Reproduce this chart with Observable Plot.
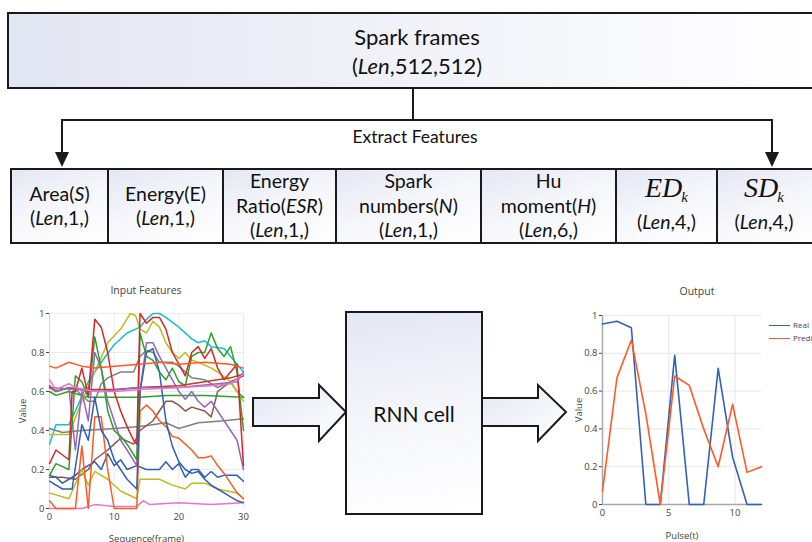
<!DOCTYPE html>
<html><head><meta charset="utf-8">
<script src="https://cdn.jsdelivr.net/npm/d3@7"></script>
<script src="https://cdn.jsdelivr.net/npm/@observablehq/plot@0.6"></script>
<style>
html,body{margin:0;padding:0;background:#fff;overflow:hidden}
#root{position:relative;width:812px;height:542px;overflow:hidden;font-family:Lato,"Open Sans",sans-serif;color:#111}
.box{position:absolute;box-sizing:border-box;border:2px solid #1a1a1a;background:linear-gradient(160deg,#e2e6f2 0%,#f3f5fa 45%,#fff 100%)}
.cell{position:absolute;box-sizing:border-box;top:168px;height:76px;border:2px solid #1a1a1a;margin-left:-2px;display:flex;align-items:center;justify-content:center;text-align:center;font-size:19.5px;line-height:24.5px;background:linear-gradient(160deg,#e4e8f3 0%,#f6f7fb 50%,#fff 100%);white-space:nowrap}
.cell i{font-style:italic}
.ser{font-family:"Liberation Serif",serif;font-style:italic;font-size:28px;line-height:22px;display:inline-block}
.ser sub{font-size:15px;position:relative;top:-2px;vertical-align:sub;margin-left:-1px}
.ttl{position:absolute;font-family:"Open Sans",sans-serif;font-size:10.5px;color:#444;transform:translateX(-50%);white-space:nowrap}
.abs{position:absolute}
</style></head>
<body>
<div id="root">
  <div class="box" style="left:7px;top:12px;width:820px;height:77px;background:linear-gradient(90deg,#e2e6f2 0%,#eef0f7 40%,#fff 100%)">
    <div style="position:absolute;left:0;right:0;top:8px;text-align:center;font-size:22px;line-height:29px">Spark frames<br>(<i>Len</i>,512,512)</div>
  </div>
  <svg class="abs" style="left:0;top:0" width="812" height="542">
    <defs>
      <linearGradient id="ag" x1="0" y1="0" x2="1" y2="1">
        <stop offset="0" stop-color="#e3e7f3"/><stop offset="1" stop-color="#fff"/>
      </linearGradient>
    </defs>
    <line x1="413" y1="89" x2="413" y2="120" stroke="#1a1a1a" stroke-width="2"/>
    <line x1="61" y1="120" x2="773" y2="120" stroke="#1a1a1a" stroke-width="2"/>
    <line x1="62" y1="119" x2="62" y2="155" stroke="#1a1a1a" stroke-width="2"/>
    <line x1="772" y1="119" x2="772" y2="155" stroke="#1a1a1a" stroke-width="2"/>
    <polygon points="55,152 69,152 62,167" fill="#1a1a1a"/>
    <polygon points="765,152 779,152 772,167" fill="#1a1a1a"/>
    <polygon points="253,398 319,398 319,385 346,412 319,441 319,426 253,426" fill="url(#ag)" stroke="#1a1a1a" stroke-width="2"/>
    <polygon points="482,398 538,398 538,385 566,412 538,441 538,426 482,426" fill="url(#ag)" stroke="#1a1a1a" stroke-width="2"/>
  </svg>
  <div class="abs" style="left:0;width:830px;top:126px;text-align:center;font-size:17.5px">Extract Features</div>

  <div class="cell" style="left:12px;width:99px"><div>Area(<i>S</i>)<br>(<i>Len</i>,1,)</div></div>
  <div class="cell" style="left:109px;width:117px"><div>Energy(E)<br>(<i>Len</i>,1,)</div></div>
  <div class="cell" style="left:224px;width:115px"><div>Energy<br>Ratio(<i>ESR</i>)<br>(<i>Len</i>,1,)</div></div>
  <div class="cell" style="left:337px;width:147px"><div>Spark<br>numbers(<i>N</i>)<br>(<i>Len</i>,1,)</div></div>
  <div class="cell" style="left:482px;width:137px"><div>Hu<br>moment(<i>H</i>)<br>(<i>Len</i>,6,)</div></div>
  <div class="cell" style="left:617px;width:103px"><div><span class="ser">ED<sub>k</sub></span><br>(<i>Len</i>,4,)</div></div>
  <div class="cell" style="left:718px;width:110px"><div style="margin-left:-14px"><span class="ser">SD<sub>k</sub></span><br>(<i>Len</i>,4,)</div></div>

  <div class="box" style="left:345px;top:311px;width:138px;height:204px;display:flex;align-items:center;justify-content:center;font-size:21px;background:linear-gradient(170deg,#e3e7f3 0%,#f3f5fa 45%,#fff 100%)">RNN cell</div>

  <div class="ttl" style="left:146px;top:283px">Input Features</div>
  <div class="ttl" style="left:697px;top:284px">Output</div>
  <div id="inChart" class="abs" style="left:0;top:280px"></div>
  <div id="outChart" class="abs" style="left:560px;top:280px"></div>
  <div class="abs" style="left:769px;top:318px;font-family:'Open Sans',sans-serif;font-size:8px;color:#444;line-height:13px;white-space:nowrap">
    <div><span style="display:inline-block;width:21px;height:0;border-top:1.6px solid #3162b4;vertical-align:middle;margin-right:3px"></span>Real</div>
    <div><span style="display:inline-block;width:21px;height:0;border-top:1.6px solid #ff5a23;vertical-align:middle;margin-right:3px"></span>Predicted</div>
  </div>
</div>
<script>
// ---- Input Features: breakpoints [frame, value] ----
const orangeFlat = [[0,0.73],[1,0.72],[3,0.75],[5,0.73],[7,0.72],[10,0.73],[14,0.74],[17,0.75],[20,0.74],[24,0.75],[28,0.74],[30,0.72]];
const pinkMid = [[0,0.66],[1,0.61],[3,0.64],[4,0.62],[7,0.6],[10,0.6],[14,0.61],[20,0.62],[25,0.63],[28,0.64],[30,0.69]];
const purpleMid = [[0,0.63],[1,0.6],[3,0.62],[4,0.61],[8,0.6],[14,0.62],[20,0.62],[26,0.64],[29,0.65],[30,0.7]];
const redMid = [[0,0.62],[1,0.6],[3,0.62],[5,0.61],[10,0.61],[14,0.62],[20,0.63],[24,0.65],[28,0.67],[30,0.69]];
const greenFlat = [[0,0.6],[1,0.58],[3,0.6],[4,0.59],[6,0.57],[10,0.57],[14,0.57],[18,0.58],[24,0.58],[30,0.57]];
const grayFlat = [[0,0.41],[2,0.39],[5,0.4],[10,0.41],[14,0.42],[18,0.44],[20,0.41],[23,0.44],[27,0.45],[30,0.46]];
const cyanRise = [[0,0.33],[1,0.43],[3,0.43],[4,0.5],[6,0.65],[8,0.75],[10,0.84],[12,0.9],[14,0.93],[15,0.97],[16,1.0],[17,1.0],[18,0.98],[20,0.93],[22,0.87],[23,0.85],[24,0.86],[25,0.83],[27,0.82],[28,0.78],[30,0.7]];
const oliveHigh = [[0,0.38],[3,0.38],[5,0.55],[7,0.7],[9,0.85],[11,0.92],[12.5,1.0],[13.3,0.99],[14,0.92],[15,0.9],[16,0.96],[17,0.93],[18,0.85],[19,0.8],[20,0.77],[21,0.8],[22,0.76],[23,0.75],[25,0.72],[26,0.7],[28,0.65],[30,0.55]];
const redPeak = [[0,0.23],[1,0.3],[3,0.25],[3.5,0.6],[4,0.6],[5,0.72],[6,0.58],[7,0.97],[8,0.93],[9,0.8],[10,0.6],[11,0.5],[12,0.42],[13,0.35],[13.5,0.33],[14,1.0],[15,0.95],[16,0.98],[17,0.98],[18,0.92],[19,0.8],[20,0.74],[21,0.68],[22,0.8],[23,0.83],[24,0.77],[25,0.82],[26,0.72],[27,0.66],[28,0.7],[29,0.74],[30,0.22]];
const greenPeak = [[0,0.17],[1,0.23],[3,0.2],[4,0.68],[5,0.65],[6,0.57],[7,0.88],[8,0.72],[9,0.5],[10,0.4],[11,0.37],[12,0.33],[13.5,0.25],[14,0.9],[15,0.78],[16,0.76],[17,0.7],[18,0.66],[19,0.72],[20,0.65],[21,0.63],[22,0.78],[23,0.8],[24,0.8],[25,0.9],[26,0.82],[27,0.78],[28,0.83],[29,0.7],[30,0.4]];
const purplePeak = [[0,0.63],[1,0.6],[3,0.62],[4,0.3],[5,0.6],[6,0.45],[7,0.8],[8,0.72],[9,0.55],[10,0.45],[11,0.35],[12,0.3],[13.5,0.22],[14,0.6],[15,0.85],[16,0.85],[17,0.78],[18,0.72],[19,0.66],[20,0.6],[21,0.56],[22,0.6],[23,0.55],[24,0.52],[25,0.55],[26,0.5],[27,0.45],[28,0.4],[29,0.35],[30,0.2]];
const bluePeak = [[0,0.14],[2,0.1],[3.5,0.1],[5,0.43],[6,0.35],[7,0.57],[8,0.4],[9,0.35],[10,0.25],[11,0.2],[12,0.15],[13.5,0.1],[14,0.6],[15,0.8],[16,0.82],[17,0.7],[18,0.45],[19,0.32],[20,0.24],[21,0.2],[22,0.18],[23,0.19],[24,0.15],[25,0.12],[26,0.1],[27,0.08],[28,0.06],[29,0.04],[30,0.03]];
const blueLow = [[0,0.17],[1,0.16],[2,0.13],[3,0.15],[4,0.17],[5,0.2],[7,0.24],[8,0.2],[9,0.28],[10,0.22],[11,0.25],[12,0.2],[13.5,0.22],[15,0.2],[17,0.2],[18,0.24],[19,0.2],[20,0.23],[21,0.16],[22,0.2],[23,0.2],[24,0.16],[25,0.19],[26,0.16],[27,0.17],[29,0.17],[30,0.14]];
const brownRise = [[0,0.16],[2,0.16],[4,0.15],[6,0.2],[7,0.25],[9,0.3],[10,0.33],[11,0.36],[13,0.33],[14,0.4],[16,0.45],[18,0.55],[19,0.55],[20,0.53],[21,0.5],[22,0.52],[24,0.5],[25,0.47],[26,0.6],[28,0.65],[30,0.68]];
const oliveLow = [[0,0.08],[3,0.05],[5,0.2],[6,0.12],[7,0.19],[9,0.15],[11,0.09],[13.5,0.05],[14,0.15],[17,0.15],[19,0.12],[21,0.1],[22,0.13],[24,0.13],[26,0.1],[29,0.08],[30,0.05]];
const orangeSpike = [[0,0.04],[1,0],[4,0],[5,0.32],[6,0],[7,0.47],[8,0.47],[9,0.2],[10,0],[13.5,0],[14,0.5],[15,0.53],[16,0.5],[17,0.45],[18,0.42],[19,0.37],[20,0.36],[21,0.33],[22,0.3],[23,0.26],[24,0.26],[25,0.27],[26,0.22],[27,0.18],[28,0.13],[29,0.08],[30,0.05]];
const pinkLow = [[0,0],[5,0],[7,0.02],[10,0.01],[13.5,0.01],[14.5,0.04],[15.5,0.02],[20,0.03],[25,0.02],[30,0.03]];
const grayHigh = [[0,0.62],[4,0.61],[6,0.55],[7,0.55],[8,0.64],[9,0.67],[11,0.7],[13,0.7],[14,0.78],[15,0.81],[16,0.8],[17,0.75],[19,0.75],[20,0.73],[21,0.7],[22,0.67],[24,0.66],[26,0.62],[28,0.65],[29,0.6],[30,0.57]];

const inputSeries = [
  [grayFlat,"#7f7f7f"],[grayHigh,"#7f7f7f"],[brownRise,"#8c564b"],[blueLow,"#2f5fb3"],[oliveLow,"#bcbd22"],
  [pinkLow,"#e377c2"],[orangeSpike,"#ff5a23"],[greenFlat,"#2ca02c"],[cyanRise,"#17becf"],[oliveHigh,"#bcbd22"],
  [purplePeak,"#9467bd"],[bluePeak,"#2f5fb3"],[greenPeak,"#2ca02c"],[redPeak,"#d62728"],
  [orangeFlat,"#ff5a23"],[redMid,"#c0392b"],[purpleMid,"#9467bd"],[pinkMid,"#e377c2"]
];
const inXTicks = [0,10,20,30];
const valueTicks = [0,0.2,0.4,0.6,0.8,1];

// ---- Output ----
const pulseX = [0,1.09,2.18,3.27,4.36,5.45,6.55,7.64,8.73,9.82,10.91,12];
const realVals = [0.955,0.97,0.935,0,0,0.79,0,0,0.72,0.25,0,0];
const predVals = [0.07,0.67,0.87,0.48,0,0.68,0.63,0.4,0.2,0.53,0.17,0.2];
const outXTicks = [0,5,10];

const fmt = d => d === 0 ? "0" : d === 1 ? "1" : String(d);
const axisStyle = {fontFamily:"'Open Sans',sans-serif", fontSize:"9.5px", color:"#444", background:"transparent", overflow:"visible"};

const inPlot = Plot.plot({
  width:270, height:262, marginLeft:49, marginRight:27, marginTop:33, marginBottom:34,
  style: axisStyle,
  x:{domain:[0,30], ticks:inXTicks, tickSize:0, tickPadding:5, label:"Sequence(frame)", labelAnchor:"center", labelOffset:33, labelArrow:"none"},
  y:{domain:[0,1], ticks:valueTicks, tickFormat:fmt, tickSize:3, tickPadding:2, label:"Value", labelAnchor:"center", labelOffset:30, labelArrow:"none"},
  marks:[
    Plot.ruleX(inXTicks.slice(1), {stroke:"#ebebeb", strokeWidth:1}),
    Plot.ruleY(valueTicks.slice(1), {stroke:"#ebebeb", strokeWidth:1}),
    Plot.ruleX([0], {stroke:"#d6d6d6"}),
    ...inputSeries.map(([pts,c]) => Plot.line(pts, {x:d=>d[0], y:d=>d[1], stroke:c, strokeWidth:1.5}))
  ]
});
document.getElementById("inChart").append(inPlot);

const outRows = pulseX.map((x,i)=>({x, real:realVals[i], pred:predVals[i]}));
const outPlot = Plot.plot({
  width:252, height:262, marginLeft:42, marginRight:51, marginTop:35, marginBottom:38,
  style: axisStyle,
  x:{domain:[0,12], ticks:outXTicks, tickSize:0, tickPadding:5, label:"Pulse(t)", labelAnchor:"center", labelOffset:34, labelArrow:"none"},
  y:{domain:[0,1], ticks:valueTicks, tickFormat:fmt, tickSize:3, tickPadding:2, label:"Value", labelAnchor:"center", labelOffset:27, labelArrow:"none"},
  marks:[
    Plot.ruleX(outXTicks.slice(1), {stroke:"#e6e6e6"}),
    Plot.ruleY(valueTicks.slice(1), {stroke:"#e6e6e6"}),
    Plot.ruleX([0], {stroke:"#a8a8a8", strokeWidth:1.5}),
    Plot.ruleY([0], {stroke:"#a8a8a8", strokeWidth:1.5}),
    Plot.line(outRows, {x:"x", y:"real", stroke:"#3162b4", strokeWidth:1.6}),
    Plot.line(outRows, {x:"x", y:"pred", stroke:"#ff5a23", strokeWidth:1.6})
  ]
});
document.getElementById("outChart").append(outPlot);
</script>
</body></html>
